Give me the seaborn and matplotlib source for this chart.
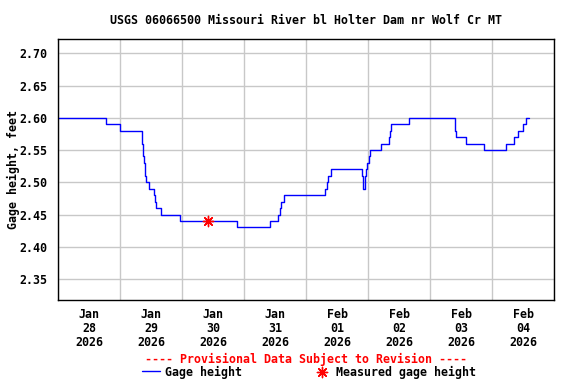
import matplotlib
matplotlib.use("Agg")
import matplotlib.pyplot as plt
import matplotlib.dates as mdates
from matplotlib.ticker import FixedLocator, FormatStrFormatter
import numpy as np
import pandas as pd
import seaborn as sns

# ---- data ----
title = "USGS 06066500 Missouri River bl Holter Dam nr Wolf Cr MT"
start_time = "2026-01-28 00:00"
# hours after start at which the gage height changes, and the new value
change_hours = [0.0, 18.4, 24.1, 32.4, 32.7, 33.0, 33.4, 33.7, 34.1, 35.3, 37.3,
                37.6, 38.1, 40.0, 47.1, 69.4, 82.2, 85.0, 85.9, 86.5, 87.4,
                103.5, 104.1, 104.4, 105.0, 105.8, 117.8, 118.0, 118.2, 118.7,
                119.0, 119.3, 119.7, 120.3, 120.9, 124.9, 128.2, 128.5, 128.9,
                135.8, 153.5, 153.8, 154.2, 154.9, 158.1, 165.0, 173.6, 176.5,
                178.2, 180.1, 181.0, 182.2]
gage_values = [2.60, 2.59, 2.58, 2.57, 2.56, 2.54, 2.53, 2.51, 2.50, 2.49, 2.48,
               2.47, 2.46, 2.45, 2.44, 2.43, 2.44, 2.45, 2.46, 2.47, 2.48,
               2.49, 2.50, 2.51, 2.51, 2.52, 2.51, 2.50, 2.49, 2.50,
               2.51, 2.52, 2.53, 2.54, 2.55, 2.56, 2.57, 2.58, 2.59,
               2.60, 2.59, 2.58, 2.57, 2.57, 2.56, 2.55, 2.56, 2.57,
               2.58, 2.59, 2.60, 2.60]
measured_time = ["2026-01-30 10:15"]
measured_value = [2.44]
y_ticks = [2.35, 2.40, 2.45, 2.50, 2.55, 2.60, 2.65, 2.70]
x_start = "2026-01-28 00:00"
x_end = "2026-02-05 00:00"

# ---- build tables ----
t0 = pd.Timestamp(start_time)
df = pd.DataFrame({
    "time": t0 + pd.to_timedelta(change_hours, unit="h"),
    "gage": gage_values,
})
dm = pd.DataFrame({"time": pd.to_datetime(measured_time), "gage": measured_value})

sns.set_style("white")
plt.rcParams["font.family"] = ["DejaVu Sans Mono", "DejaVu Sans"]
plt.rcParams["font.weight"] = "bold"
for k in ["text.color", "axes.labelcolor", "xtick.color", "ytick.color"]:
    plt.rcParams[k] = "black"
FS = 8.4

fig = plt.figure(figsize=(5.76, 3.84), dpi=100)
ax = fig.add_axes([58/576, 1-300/384, 496/576, 261/384])

sns.lineplot(data=df, x="time", y="gage", ax=ax, color="#0000FF", lw=1.0,
             drawstyle="steps-post", label="Gage height", legend=False,
             estimator=None)
sns.scatterplot(data=dm, x="time", y="gage", ax=ax, color="#FF0000",
                marker=(8, 2, 0), s=55, linewidth=1.0, edgecolor="#FF0000",
                label="Measured gage height", legend=False, zorder=5)

ax.set_xlim(pd.Timestamp(x_start), pd.Timestamp(x_end))
ax.set_ylim(2.3174, 2.7222)

ax.yaxis.set_major_locator(FixedLocator(y_ticks))
ax.yaxis.set_major_formatter(FormatStrFormatter("%.2f"))
ax.xaxis.set_major_locator(mdates.DayLocator())
ax.xaxis.set_major_formatter(plt.NullFormatter())
ax.xaxis.set_minor_locator(mdates.HourLocator(byhour=[12]))
ax.xaxis.set_minor_formatter(mdates.DateFormatter("%b\n%d\n%Y"))

ax.grid(True, which="major", color="#C8C8C8", lw=1.0)
ax.set_axisbelow(True)
ax.tick_params(axis="both", which="both", length=0, labelsize=FS,
               labelcolor="black")
ax.tick_params(axis="y", pad=8)
ax.tick_params(axis="x", which="minor", pad=6)
for lab in ax.get_xticklabels(minor=True):
    lab.set_linespacing(1.1)
    lab.set_fontweight("bold")
for lab in ax.get_yticklabels():
    lab.set_fontweight("bold")

for sp in ax.spines.values():
    sp.set_color("black")
    sp.set_linewidth(1.0)

ax.set_xlabel("")
ax.set_ylabel("Gage height, feet", fontsize=FS, fontweight="bold",
              color="black")
ax.yaxis.set_label_coords(-0.076, 0.5)

fig.text(306/576, 1-20/384, title, ha="center", va="center", fontsize=FS,
         fontweight="bold", color="black")
fig.text(306/576, 1-359/384, "---- Provisional Data Subject to Revision ----",
         ha="center", va="center", fontsize=FS, fontweight="bold",
         color="#FF0000")

h, l = ax.get_legend_handles_labels()
fig.legend(h, l, loc="center", bbox_to_anchor=(309/576, 1-372/384), ncol=2,
           frameon=False, handlelength=1.55, handletextpad=0.5,
           columnspacing=6.0, borderpad=0, borderaxespad=0,
           prop={"weight": "bold", "size": FS}, labelcolor="black")

fig.savefig("out.png", dpi=100)
